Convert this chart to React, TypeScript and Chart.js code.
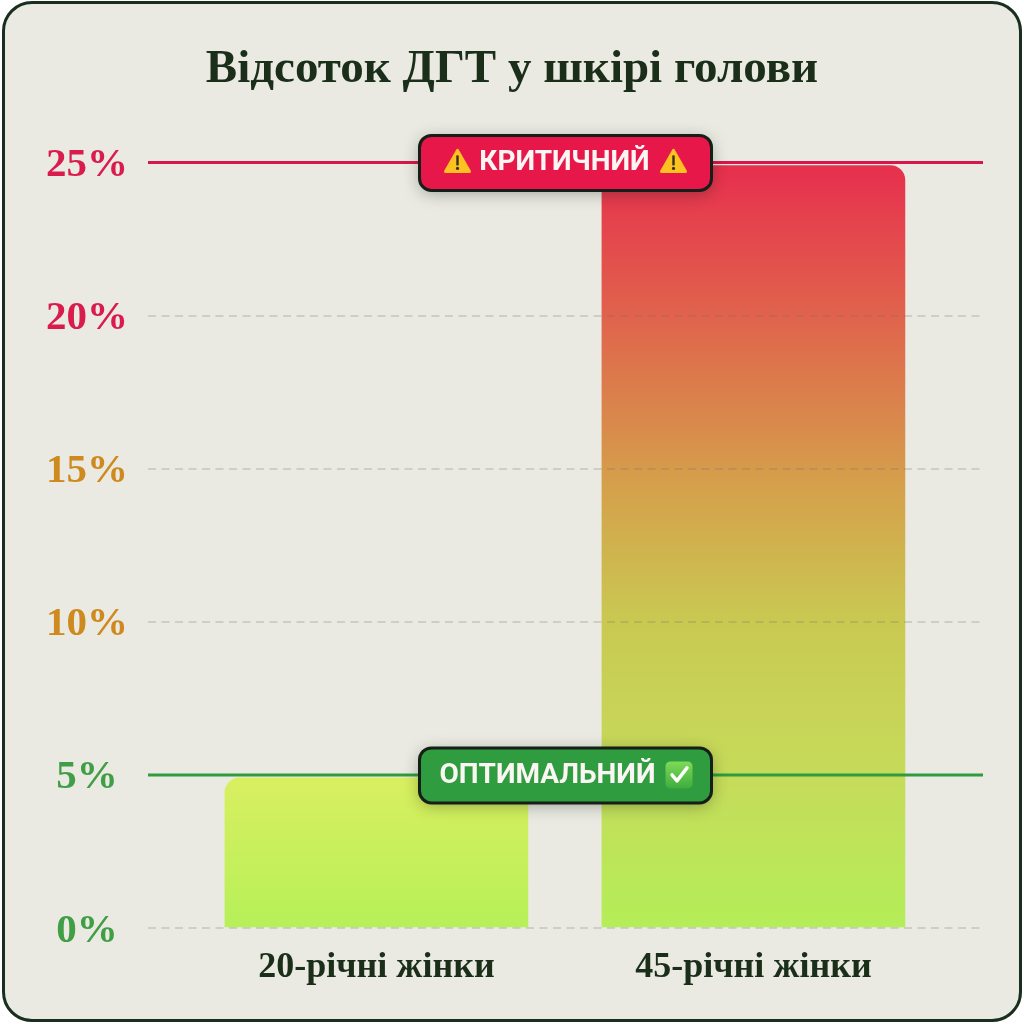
import React, { useEffect, useRef } from "react";
import { Chart, registerables } from "chart.js";

Chart.register(...registerables);

const TITLE = "Відсоток ДГТ у шкірі голови";
const categories = ["20-річні жінки", "45-річні жінки"];
const barPositions = [1, 2];
const values = [4.9, 24.9];
const yTicks = [0, 5, 10, 15, 20, 25];
const critical = 25;
const optimal = 5;
const criticalLabel = "КРИТИЧНИЙ";
const optimalLabel = "ОПТИМАЛЬНИЙ";
const xMin = 0.394;
const xMax = 2.609;

const SERIF = '"Liberation Serif", serif';
const SANS = 'Roboto, sans-serif';

function tickColor(v: number) {
  if (v >= 20) return "#d91c4e";
  if (v >= 10) return "#cf8a1f";
  return "#3f9e46";
}

function roundRect(ctx: CanvasRenderingContext2D, x: number, y: number, w: number, h: number, r: number) {
  ctx.beginPath();
  ctx.roundRect(x, y, w, h, r);
}

function drawWarning(ctx: CanvasRenderingContext2D, cx: number, cy: number) {
  ctx.save();
  ctx.lineJoin = "round";
  ctx.fillStyle = "#fdc221";
  ctx.strokeStyle = "#fdc221";
  ctx.lineWidth = 3;
  ctx.beginPath();
  ctx.moveTo(cx, cy - 11);
  ctx.lineTo(cx + 12, cy + 10);
  ctx.lineTo(cx - 12, cy + 10);
  ctx.closePath();
  ctx.fill();
  ctx.stroke();
  ctx.fillStyle = "#3b3018";
  ctx.fillRect(cx - 1.2, cy - 6, 2.4, 10);
  ctx.beginPath();
  ctx.arc(cx, cy + 7, 1.6, 0, Math.PI * 2);
  ctx.fill();
  ctx.restore();
}

function drawCheck(ctx: CanvasRenderingContext2D, cx: number, cy: number) {
  ctx.save();
  const g = ctx.createLinearGradient(0, cy - 13, 0, cy + 13);
  g.addColorStop(0, "#7ed957");
  g.addColorStop(1, "#3fae3f");
  ctx.fillStyle = g;
  roundRect(ctx, cx - 13.5, cy - 13.5, 27, 27, 5);
  ctx.fill();
  ctx.strokeStyle = "#ffffff";
  ctx.lineWidth = 3.4;
  ctx.lineCap = "round";
  ctx.lineJoin = "round";
  ctx.beginPath();
  ctx.moveTo(cx - 7, cy);
  ctx.lineTo(cx - 2, cy + 6);
  ctx.lineTo(cx + 8, cy - 7);
  ctx.stroke();
  ctx.restore();
}

const badgePlugin = {
  id: "badges",
  afterDatasetsDraw(chart: any) {
    const { ctx, scales } = chart;
    const cx = 565.5;
    const draw = (fill: string, label: string, textX: number, extras: () => void, cy: number) => {
      ctx.save();
      ctx.shadowColor = "rgba(20,30,20,0.35)";
      ctx.shadowBlur = 16;
      ctx.shadowOffsetY = 3;
      ctx.fillStyle = fill;
      roundRect(ctx, cx - 146, cy - 27, 292, 55, 12);
      ctx.fill();
      ctx.shadowColor = "transparent";
      ctx.strokeStyle = "#161f17";
      ctx.lineWidth = 3;
      ctx.stroke();
      ctx.fillStyle = "#fbf6f4";
      ctx.font = `700 28px ${SANS}`;
      ctx.textAlign = "center";
      ctx.textBaseline = "middle";
      ctx.fillText(label, textX, cy + 1);
      ctx.restore();
      extras();
    };
    const cyC = scales.y.getPixelForValue(critical);
    const cyO = scales.y.getPixelForValue(optimal);
    draw("#e8174a", criticalLabel, 564.5, () => {
      drawWarning(ctx, 457.5, cyC - 1);
      drawWarning(ctx, 673.5, cyC - 1);
    }, cyC);
    draw("#2f9c3f", optimalLabel, 547.5, () => drawCheck(ctx, 679, cyO), cyO);
  },
};

export default function App() {
  const ref = useRef<HTMLCanvasElement>(null);
  useEffect(() => {
    document.body.style.margin = "0";
    const chart = new Chart(ref.current as HTMLCanvasElement, {
      type: "bar",
      data: {
        labels: categories,
        datasets: [
          {
            type: "line",
            data: [{ x: xMin, y: critical }, { x: xMax, y: critical }],
            borderColor: "#d5174c",
            borderWidth: 3,
            pointRadius: 0,
            clip: false,
            order: 0,
          },
          {
            type: "line",
            data: [{ x: xMin, y: optimal }, { x: xMax, y: optimal }],
            borderColor: "#2f9c3f",
            borderWidth: 3,
            pointRadius: 0,
            clip: false,
            order: 0,
          },
          {
            type: "bar",
            data: barPositions.map((x, i) => ({ x, y: values[i] })),
            barThickness: 303,
            borderRadius: { topLeft: 15, topRight: 15, bottomLeft: 0, bottomRight: 0 },
            borderSkipped: false,
            order: 1,
            backgroundColor: (c: any) => {
              const { ctx, scales, chartArea } = c.chart;
              if (!chartArea) return "#b5ee58";
              const bottom = scales.y.getPixelForValue(0);
              const top = scales.y.getPixelForValue(values[c.dataIndex]);
              if (!Number.isFinite(top) || !Number.isFinite(bottom)) return "#b5ee58";
              const g = ctx.createLinearGradient(0, top, 0, bottom);
              if (c.dataIndex === 0) {
                g.addColorStop(0, "#d9ef60");
                g.addColorStop(1, "#b6f058");
                return g;
              }
              g.addColorStop(0, "#e72f4e");
              g.addColorStop(0.2, "#e0644c");
              g.addColorStop(0.42, "#d5a04b");
              g.addColorStop(0.6, "#c9c952");
              g.addColorStop(0.8, "#c6db5a");
              g.addColorStop(1, "#b4ee58");
              return g;
            },
          },
        ],
      } as any,
      options: {
        responsive: false,
        animation: false,
        devicePixelRatio: 1,
        layout: { padding: 0 },
        plugins: {
          legend: { display: false },
          tooltip: { enabled: false },
          title: {
            display: true,
            text: TITLE,
            color: "#1a2e1a",
            font: { family: SERIF, weight: "bold", size: 47 },
            padding: { top: 42, bottom: 64 },
          },
        },
        scales: {
          x: {
            type: "linear",
            offset: false,
            min: xMin,
            max: xMax,
            afterBuildTicks: (s: any) => {
              s.ticks = barPositions.map((value) => ({ value }));
            },
            grid: { display: false },
            border: { display: false },
            afterFit: (s: any) => {
              s.height = 96;
            },
            ticks: {
              autoSkip: false,
              maxRotation: 0,
              padding: 10,
              color: "#1a2e1a",
              font: { family: SERIF, weight: "bold", size: 36 },
              callback: (v: any) => categories[barPositions.indexOf(v)] ?? "",
            },
          },
          y: {
            min: 0,
            max: 25,
            afterBuildTicks: (s: any) => {
              s.ticks = yTicks.map((value) => ({ value }));
            },
            afterFit: (s: any) => {
              s.width = 148;
            },
            border: { display: false, dash: [8, 5.5] },
            grid: {
              z: 1,
              drawTicks: false,
              color: "rgba(110,110,105,0.22)",
              lineWidth: (c: any) => (c.tick && (c.tick.value === critical || c.tick.value === optimal) ? 0 : 2),
            },
            ticks: {
              padding: 20,
              crossAlign: "center",
              labelOffset: 3,
              color: (c: any) => tickColor(c.tick.value),
              font: { family: SERIF, weight: "bold", size: 41 },
              callback: (v: any) => `${v}%`,
            },
          },
          yRight: {
            position: "right",
            min: 0,
            max: 25,
            grid: { display: false },
            border: { display: false },
            ticks: { display: false },
            afterFit: (s: any) => {
              s.width = 41;
            },
          },
        },
      } as any,
      plugins: [badgePlugin],
    });
    return () => chart.destroy();
  }, []);

  return (
    <div
      style={{
        position: "absolute",
        left: 0,
        top: 0,
        width: 1024,
        height: 1024,
        background: "#ffffff",
      }}
    >
      <div
        style={{
          position: "absolute",
          left: 2,
          top: 1,
          width: 1014,
          height: 1015,
          background: "#eaeae2",
          border: "3px solid #1a2e1f",
          borderRadius: 30,
        }}
      />
      <canvas ref={ref} width={1024} height={1024} style={{ position: "absolute", left: 0, top: 0, display: "block" }} />
    </div>
  );
}
